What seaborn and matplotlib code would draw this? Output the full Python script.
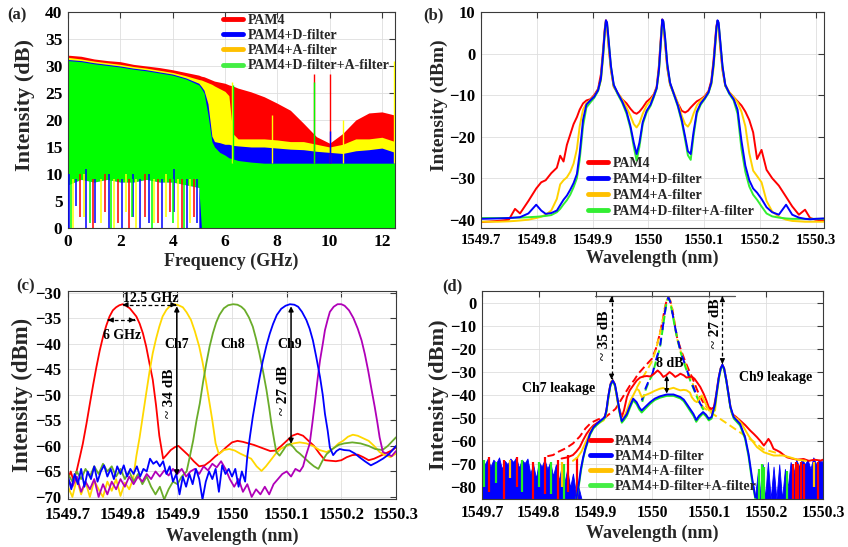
import numpy as np
import matplotlib
matplotlib.use("Agg")
import matplotlib.pyplot as plt
from matplotlib.lines import Line2D
import seaborn as sns

# ---------------- DATA ----------------
# (a) electrical spectra: envelope values (dB) on a frequency grid (GHz)
a_freq = [0, 0.5, 1, 1.5, 2, 2.5, 3, 3.5, 4, 4.5, 5, 5.1, 5.2, 5.35, 5.5, 5.6, 5.8, 6.0, 6.15,
          6.3, 6.5, 7, 7.5, 8, 8.5, 9, 9.5, 10, 10.5, 11, 11.5, 12, 12.5]
a_red_top = [32, 31.8, 31.3, 31, 30.8, 30.3, 30, 29.7, 29.3, 28.8, 28.3, 28.1, 28, 27.7, 27.4, 27.2,
             27, 26.8, 26.5, 26.3, 25.9, 25.2, 24.3, 23.1, 21.8, 19.4, 16.9, 15.7, 17.5, 20, 21.3, 21.5, 20.9]
a_yel_top = [31.6, 31.3, 30.9, 30.6, 30.3, 29.9, 29.6, 29.2, 28.8, 28.2, 27.5, 27.4, 27.2, 26.9, 26.6,
             26.3, 25.8, 25.3, 24.5, 17.5, 16.5, 16.5, 16.5, 16.3, 16, 16, 15.5, 15, 15.5, 16.5, 16.5, 16.8, 16]
a_blu_top = [31.2, 31, 30.6, 30.3, 30, 29.6, 29.3, 28.9, 28.5, 27.8, 26.8, 26.2, 25.5, 23, 17, 16,
             15.8, 15.5, 15.5, 15.3, 15.2, 15, 15, 14.8, 14.6, 14.5, 14.2, 14, 13.8, 14.3, 14.5, 14.8, 14]
a_grn_top = [31, 30.8, 30.4, 30.1, 29.8, 29.4, 29.1, 28.7, 28.3, 27.6, 26.5, 25.8, 25, 21, 16, 15,
             14, 13.5, 13, 12.8, 12.5, 12.2, 12, 12, 12, 12, 12, 12, 12, 12, 12, 12, 12]
a_grn_low = [8, 9, 8.5, 9, 8.5, 8.5, 9, 8.5, 8.5, 8, 7.5, 0, 0, 0, 0, 0,
             0, 0, 0, 0, 0, 0, 0, 0, 0, 0, 0, 0, 0, 0, 0, 0, 0]
# noise dips below the green floor (GHz, lowest dB, highest dB)
a_red_dips = [(0.45, 2, 10), (0.95, 0, 9), (1.4, 3, 10), (1.9, 1, 9), (2.35, 0, 9), (2.95, 2, 10),
              (3.45, 1, 9), (3.9, 3, 9), (4.35, 0, 9), (4.8, 2, 9)]
a_blu_dips = [(0.05, 0, 10), (0.3, 4, 9), (0.7, 0, 11), (1.05, 1, 9), (1.55, 0, 10), (2.05, 0, 9),
              (2.5, 2, 10), (2.75, 0, 9), (3.1, 1, 10), (3.6, 0, 9), (4.05, 3, 11), (4.55, 0, 9), (4.95, 1, 9)]
a_yel_dips = [(0.2, 0, 9), (0.6, 2, 10), (1.25, 1, 9), (1.75, 0, 9), (2.2, 3, 10), (2.6, 0, 9),
              (3.3, 1, 9), (3.75, 2, 10), (4.2, 0, 9), (4.65, 1, 9)]
a_grn_dips = [(0.12, 0, 9), (0.85, 1, 9), (1.65, 0, 9), (2.45, 2, 9), (3.2, 0, 9), (4.0, 1, 9), (4.45, 0, 9)]
# narrow tones (GHz, peak dB, series)
a_tones = [(6.25, 27, "yel"), (6.3, 26.5, "grn"), (7.8, 21, "yel"), (9.4, 28.5, "red"),
           (9.42, 27, "grn"), (10.0, 28.5, "red"), (10.0, 18, "blu"), (10.5, 20, "yel"), (12.48, 31, "yel")]

# (b) optical spectra (nm, dBm)
b_wl = [1549.700, 1549.730, 1549.750, 1549.761, 1549.770, 1549.785, 1549.799, 1549.808, 1549.816, 1549.826,
        1549.836, 1549.842, 1549.848, 1549.854, 1549.860, 1549.866, 1549.872, 1549.877, 1549.883, 1549.889,
        1549.896, 1549.903, 1549.910, 1549.915, 1549.919, 1549.922, 1549.924, 1549.926, 1549.929, 1549.933,
        1549.938, 1549.945, 1549.953, 1549.961, 1549.968, 1549.974, 1549.979, 1549.984, 1549.990, 1549.997,
        1550.004, 1550.010, 1550.015, 1550.019, 1550.022, 1550.025, 1550.027, 1550.030, 1550.034, 1550.039,
        1550.046, 1550.053, 1550.060, 1550.066, 1550.071, 1550.076, 1550.081, 1550.087, 1550.094, 1550.101,
        1550.108, 1550.113, 1550.117, 1550.120, 1550.122, 1550.124, 1550.126, 1550.129, 1550.133, 1550.138,
        1550.145, 1550.153, 1550.160, 1550.167, 1550.174, 1550.181, 1550.188, 1550.195, 1550.203, 1550.212,
        1550.222, 1550.234, 1550.247, 1550.258, 1550.270, 1550.281, 1550.290, 1550.300, 1550.315]
b_red = [-40.6, -40.3, -40.0, -37.4, -38.5, -35.5, -32.5, -31.0, -30.5, -28.8,
         -27.5, -24.6, -26.0, -22.0, -19.5, -17.0, -15.3, -13.5, -12.0, -11.3,
         -11.0, -10.0, -8.5, -5.0, 1.0, 6.0, 8.0, 6.5, 1.5, -4.0,
         -8.0, -9.5, -11.0, -12.0, -13.3, -14.2, -14.5, -14.0, -13.0, -11.6,
         -10.8, -9.8, -8.0, -3.0, 3.0, 8.2, 7.0, 2.5, -3.5, -7.5,
         -9.8, -12.0, -13.8, -14.2, -13.8, -13.0, -12.3, -11.5, -11.0, -10.3,
         -9.0, -6.5, -1.5, 3.5, 6.5, 7.8, 6.5, 1.5, -4.0, -7.8,
         -9.3, -10.5, -11.5, -12.5, -14.0, -16.0, -19.0, -25.4, -23.2, -28.0,
         -30.0, -31.8, -34.5, -36.8, -38.8, -37.6, -39.6, -40.0, -40.2]
b_yel = [-40.5, -40.5, -40.4, -40.3, -40.2, -40.0, -39.6, -39.3, -38.8, -37.8,
         -35.0, -31.5, -30.5, -29.8, -28.5, -26.5, -23.0, -17.5, -13.5, -12.0,
         -11.2, -10.3, -8.8, -6.5, -1.0, 5.0, 7.6, 6.8, 2.0, -3.5,
         -7.8, -9.5, -11.0, -13.0, -15.0, -17.0, -17.8, -16.8, -14.5, -12.5,
         -11.3, -10.0, -8.3, -4.5, 1.5, 7.8, 7.3, 3.0, -3.0, -7.3,
         -9.5, -12.0, -15.0, -17.0, -17.6, -16.5, -14.5, -12.5, -11.3, -10.5,
         -9.2, -7.5, -3.5, 1.5, 5.0, 7.5, 7.0, 2.5, -3.5, -7.5,
         -9.3, -10.5, -11.8, -14.0, -17.5, -24.0, -28.2, -29.5, -31.0, -35.5,
         -38.0, -39.3, -40.0, -40.3, -40.4, -40.5, -40.5, -40.5, -40.5]
b_blu = [-39.8, -39.7, -39.6, -39.5, -39.4, -38.5, -36.4, -37.8, -38.6, -38.4,
         -37.8, -36.5, -35.2, -34.2, -32.8, -31.2, -29.0, -24.0, -16.0, -12.3,
         -11.3, -10.4, -8.8, -6.0, 0.0, 5.5, 8.0, 7.5, 3.0, -3.0,
         -7.5, -9.5, -11.5, -14.0, -17.5, -21.5, -24.2, -21.5, -16.5, -13.8,
         -12.3, -10.2, -8.3, -4.0, 2.0, 8.2, 7.8, 4.0, -2.5, -7.0,
         -9.8, -12.5, -16.0, -20.0, -23.5, -24.2, -19.0, -14.0, -12.0, -10.8,
         -9.3, -7.0, -2.5, 2.5, 6.0, 8.0, 7.5, 3.0, -3.0, -7.5,
         -9.5, -11.0, -13.5, -21.0, -27.0, -30.5, -32.5, -33.5, -35.0, -37.0,
         -38.2, -38.8, -36.4, -38.8, -39.5, -39.8, -39.9, -39.8, -39.7]
b_grn = [-39.6, -39.6, -39.6, -39.5, -39.5, -39.4, -39.3, -39.2, -39.1, -38.9,
         -38.2, -37.4, -36.3, -35.3, -34.0, -32.2, -30.0, -25.5, -17.5, -13.0,
         -11.8, -10.7, -9.0, -6.2, -0.2, 5.3, 7.8, 7.3, 2.8, -3.2,
         -7.7, -9.8, -11.8, -14.5, -18.0, -22.5, -25.8, -22.5, -17.0, -14.2,
         -12.6, -10.5, -8.5, -4.2, 1.8, 8.0, 7.6, 3.8, -2.7, -7.2,
         -10.0, -12.8, -16.5, -20.8, -24.5, -25.6, -20.0, -14.5, -12.3, -11.0,
         -9.5, -7.2, -2.7, 2.3, 5.8, 7.8, 7.3, 2.8, -3.2, -7.7,
         -9.7, -11.3, -14.5, -23.0, -28.5, -32.0, -34.0, -35.2, -36.8, -38.5,
         -39.2, -39.5, -39.7, -39.8, -39.8, -39.8, -39.8, -39.8, -39.8]

# (c) filter responses of channels Ch6..Ch10 (nm, dBm)
c_ch6 = [(1549.700, -66.5), (1549.705, -65.0), (1549.710, -66.8), (1549.716, -64.8), (1549.722, -62.0),
         (1549.727, -59.6), (1549.734, -55.5), (1549.740, -51.7), (1549.746, -48.0), (1549.752, -44.5),
         (1549.758, -41.3), (1549.764, -38.6), (1549.770, -36.4), (1549.776, -34.6), (1549.782, -33.4),
         (1549.788, -32.8), (1549.794, -32.4), (1549.800, -32.2), (1549.806, -32.5), (1549.813, -33.0),
         (1549.819, -33.8), (1549.825, -34.6), (1549.831, -36.0), (1549.837, -37.9), (1549.843, -40.5),
         (1549.849, -43.8), (1549.855, -47.0), (1549.861, -52.0), (1549.867, -58.0), (1549.874, -62.5),
         (1549.880, -61.8), (1549.888, -60.8), (1549.896, -60.2), (1549.902, -60.0), (1549.910, -60.8),
         (1549.920, -61.8), (1549.930, -63.0), (1549.940, -64.0), (1549.950, -63.8), (1549.960, -63.0),
         (1549.970, -62.0), (1549.980, -61.2), (1549.990, -60.2), (1550.000, -59.3), (1550.010, -59.0),
         (1550.020, -59.2), (1550.030, -59.5), (1550.040, -59.8), (1550.050, -60.2), (1550.060, -60.6),
         (1550.070, -61.0), (1550.080, -60.9), (1550.090, -60.0), (1550.100, -59.0), (1550.110, -58.0),
         (1550.120, -57.6), (1550.130, -58.0), (1550.140, -59.0), (1550.150, -60.0), (1550.160, -61.5),
         (1550.170, -62.8), (1550.180, -62.9), (1550.190, -63.0), (1550.200, -62.8), (1550.210, -62.2),
         (1550.220, -61.8), (1550.230, -61.7), (1550.240, -62.2), (1550.250, -62.8), (1550.260, -62.5),
         (1550.270, -62.0), (1550.280, -61.5), (1550.290, -61.0), (1550.300, -60.3)]
c_ch7 = [(1549.700, -68.0), (1549.708, -70.0), (1549.716, -66.5), (1549.724, -69.5), (1549.732, -67.0),
         (1549.740, -70.0), (1549.748, -66.8), (1549.756, -68.5), (1549.764, -70.0), (1549.772, -67.0),
         (1549.780, -68.8), (1549.788, -66.5), (1549.796, -69.8), (1549.804, -67.2), (1549.812, -68.5),
         (1549.819, -66.5), (1549.825, -62.0), (1549.831, -58.3), (1549.837, -54.0), (1549.843, -49.7),
         (1549.849, -45.5), (1549.855, -41.8), (1549.861, -39.0), (1549.867, -36.6), (1549.873, -34.6),
         (1549.880, -33.3), (1549.887, -32.5), (1549.895, -32.2), (1549.902, -32.4), (1549.910, -32.8),
         (1549.917, -33.8), (1549.925, -35.3), (1549.932, -37.5), (1549.940, -40.5), (1549.946, -43.5),
         (1549.952, -47.1), (1549.958, -51.0), (1549.964, -55.0), (1549.970, -59.5), (1549.976, -61.6),
         (1549.985, -60.8), (1549.995, -60.6), (1550.005, -60.9), (1550.015, -61.5), (1550.025, -62.0),
         (1550.035, -62.5), (1550.045, -64.0), (1550.054, -64.9), (1550.062, -64.0), (1550.070, -62.9),
         (1550.080, -61.5), (1550.090, -60.5), (1550.100, -60.0), (1550.112, -59.5), (1550.124, -59.3),
         (1550.136, -59.5), (1550.148, -60.0), (1550.160, -60.8), (1550.173, -61.2), (1550.185, -60.5),
         (1550.195, -59.5), (1550.203, -59.0), (1550.212, -58.2), (1550.221, -57.8), (1550.230, -58.0),
         (1550.240, -58.5), (1550.250, -59.0), (1550.260, -60.0), (1550.270, -61.2), (1550.280, -61.8),
         (1550.290, -62.2), (1550.300, -61.5)]
c_ch8 = [(1549.700, -65.5), (1549.708, -67.0), (1549.716, -65.0), (1549.724, -66.5), (1549.732, -64.5),
         (1549.740, -66.0), (1549.748, -64.0), (1549.756, -65.5), (1549.764, -63.5), (1549.772, -65.0),
         (1549.780, -64.0), (1549.788, -66.0), (1549.796, -64.5), (1549.804, -66.5), (1549.812, -65.0),
         (1549.820, -67.0), (1549.828, -65.5), (1549.836, -67.5), (1549.844, -66.0), (1549.852, -68.0),
         (1549.860, -69.5), (1549.868, -68.0), (1549.876, -70.5), (1549.884, -68.5), (1549.892, -67.0),
         (1549.900, -67.5), (1549.908, -66.0), (1549.917, -65.0), (1549.923, -62.0), (1549.929, -58.9),
         (1549.935, -55.0), (1549.941, -51.7), (1549.947, -47.5), (1549.953, -43.8), (1549.959, -40.5),
         (1549.965, -37.9), (1549.971, -35.8), (1549.977, -34.3), (1549.985, -33.0), (1549.993, -32.4),
         (1550.002, -32.2), (1550.010, -32.3), (1550.017, -32.7), (1550.023, -33.3), (1550.031, -34.8),
         (1550.038, -36.6), (1550.044, -39.0), (1550.050, -41.8), (1550.057, -45.5), (1550.063, -49.0),
         (1550.068, -52.5), (1550.072, -55.6), (1550.077, -58.8), (1550.081, -61.2), (1550.087, -61.9),
         (1550.094, -60.8), (1550.100, -59.8), (1550.106, -59.6), (1550.112, -60.2), (1550.118, -61.0),
         (1550.124, -61.5), (1550.134, -62.5), (1550.142, -63.3), (1550.150, -64.0), (1550.158, -64.5),
         (1550.165, -63.0), (1550.173, -61.6), (1550.185, -60.5), (1550.195, -59.8), (1550.205, -59.5),
         (1550.220, -59.3), (1550.235, -59.5), (1550.250, -60.0), (1550.262, -60.6), (1550.275, -60.8),
         (1550.285, -60.0), (1550.300, -58.3)]
c_ch9 = [(1549.700, -66.0), (1549.706, -68.5), (1549.712, -65.5), (1549.718, -67.5), (1549.724, -64.5),
         (1549.730, -68.0), (1549.736, -65.0), (1549.742, -66.5), (1549.748, -64.0), (1549.754, -67.0),
         (1549.760, -65.0), (1549.766, -63.8), (1549.772, -66.0), (1549.778, -64.5), (1549.784, -66.5),
         (1549.790, -64.0), (1549.796, -65.5), (1549.802, -63.8), (1549.808, -66.0), (1549.814, -64.5),
         (1549.820, -65.5), (1549.826, -64.0), (1549.832, -66.0), (1549.838, -64.5), (1549.844, -65.0),
         (1549.850, -62.5), (1549.856, -63.5), (1549.862, -63.0), (1549.868, -64.0), (1549.874, -63.0),
         (1549.880, -65.5), (1549.886, -64.0), (1549.892, -67.0), (1549.898, -65.5), (1549.904, -69.5),
         (1549.910, -66.0), (1549.916, -68.0), (1549.922, -65.5), (1549.928, -67.5), (1549.934, -64.5),
         (1549.940, -66.5), (1549.946, -70.5), (1549.952, -67.0), (1549.958, -65.0), (1549.964, -66.5),
         (1549.970, -64.5), (1549.976, -69.0), (1549.982, -63.8), (1549.988, -65.5), (1549.994, -64.5),
         (1550.000, -66.0), (1550.006, -64.5), (1550.012, -68.0), (1550.018, -65.0), (1550.024, -67.0),
         (1550.028, -62.0), (1550.033, -58.0), (1550.038, -54.3), (1550.044, -50.5), (1550.050, -46.9),
         (1550.056, -43.5), (1550.063, -40.3), (1550.069, -38.0), (1550.075, -36.1), (1550.082, -34.3),
         (1550.090, -33.1), (1550.098, -32.5), (1550.106, -32.2), (1550.114, -32.3), (1550.121, -32.7),
         (1550.128, -33.7), (1550.136, -35.3), (1550.142, -37.0), (1550.148, -39.3), (1550.154, -42.5),
         (1550.161, -46.5), (1550.166, -50.0), (1550.170, -53.7), (1550.175, -57.0), (1550.179, -60.3),
         (1550.185, -61.8), (1550.191, -61.0), (1550.197, -60.6), (1550.205, -60.8), (1550.215, -60.9),
         (1550.225, -61.5), (1550.233, -62.2), (1550.243, -63.0), (1550.254, -63.8), (1550.265, -63.2),
         (1550.276, -62.5), (1550.285, -61.8), (1550.293, -60.9), (1550.300, -60.0)]
c_ch10 = [(1549.700, -66.5), (1549.708, -68.0), (1549.716, -66.0), (1549.724, -69.0), (1549.732, -67.0),
          (1549.740, -68.5), (1549.748, -66.5), (1549.756, -70.0), (1549.764, -67.5), (1549.772, -69.5),
          (1549.780, -67.0), (1549.788, -68.5), (1549.796, -66.5), (1549.804, -68.0), (1549.812, -66.0),
          (1549.820, -67.5), (1549.828, -66.0), (1549.836, -67.0), (1549.844, -65.5), (1549.852, -66.5),
          (1549.860, -65.0), (1549.868, -66.0), (1549.876, -64.8), (1549.884, -65.8), (1549.892, -64.5),
          (1549.900, -65.5), (1549.908, -64.5), (1549.916, -66.0), (1549.924, -65.0), (1549.932, -64.5),
          (1549.940, -65.5), (1549.948, -64.0), (1549.956, -64.8), (1549.964, -63.5), (1549.972, -64.2),
          (1549.980, -63.0), (1549.988, -64.5), (1549.996, -66.5), (1550.004, -68.0), (1550.012, -66.5),
          (1550.020, -69.0), (1550.028, -67.5), (1550.036, -70.0), (1550.044, -68.5), (1550.052, -69.5),
          (1550.060, -68.0), (1550.068, -69.5), (1550.076, -67.5), (1550.084, -66.5), (1550.092, -65.5),
          (1550.100, -65.0), (1550.108, -66.0), (1550.116, -64.5), (1550.124, -65.0), (1550.130, -64.0),
          (1550.135, -62.0), (1550.142, -59.6), (1550.147, -55.5), (1550.152, -51.1), (1550.157, -46.5),
          (1550.161, -43.2), (1550.166, -40.0), (1550.170, -37.3), (1550.175, -35.2), (1550.179, -33.7),
          (1550.186, -32.7), (1550.193, -32.2), (1550.200, -32.2), (1550.206, -32.5), (1550.214, -33.4),
          (1550.222, -34.9), (1550.230, -37.0), (1550.237, -39.3), (1550.243, -42.0), (1550.249, -45.2),
          (1550.255, -48.8), (1550.261, -52.3), (1550.266, -55.5), (1550.270, -58.3), (1550.276, -61.2),
          (1550.283, -61.5), (1550.292, -62.0), (1550.300, -61.0)]

# (d) Ch8 output spectra (nm, dBm): solid = with Ch7/Ch9 leakage, dashed = Ch8 alone
d_red = [(1549.840, -67.5), (1549.850, -67.0), (1549.860, -66.0), (1549.866, -64.5), (1549.872, -62.6),
         (1549.878, -59.5), (1549.884, -56.8), (1549.890, -54.8), (1549.896, -53.2), (1549.902, -52.2),
         (1549.908, -51.3), (1549.913, -50.5), (1549.917, -49.0), (1549.920, -45.0), (1549.924, -38.0),
         (1549.927, -34.5), (1549.930, -33.7), (1549.933, -35.0), (1549.937, -40.0), (1549.941, -45.5),
         (1549.946, -49.6), (1549.950, -46.5), (1549.955, -40.9), (1549.960, -38.0), (1549.966, -35.9),
         (1549.972, -33.8), (1549.978, -32.5), (1549.984, -32.0), (1549.990, -31.8), (1549.996, -32.0),
         (1550.002, -31.0), (1550.009, -29.4), (1550.014, -30.5), (1550.019, -32.2), (1550.024, -31.5),
         (1550.030, -30.1), (1550.035, -31.0), (1550.040, -32.2), (1550.045, -31.5), (1550.049, -30.8),
         (1550.055, -31.5), (1550.060, -32.5), (1550.065, -32.2), (1550.069, -32.0), (1550.074, -33.0),
         (1550.078, -34.4), (1550.084, -36.5), (1550.090, -39.5), (1550.095, -42.5), (1550.099, -45.3),
         (1550.104, -46.0), (1550.108, -45.3), (1550.112, -40.0), (1550.116, -33.0), (1550.120, -28.5),
         (1550.123, -27.0), (1550.126, -28.5), (1550.130, -33.7), (1550.134, -40.0), (1550.137, -45.0),
         (1550.140, -48.2), (1550.147, -49.5), (1550.154, -51.0), (1550.163, -53.0), (1550.172, -55.4),
         (1550.178, -56.8), (1550.184, -58.3), (1550.190, -60.0), (1550.196, -61.9), (1550.200, -60.5),
         (1550.204, -59.0), (1550.208, -60.5), (1550.213, -63.3), (1550.219, -64.0), (1550.225, -64.8),
         (1550.231, -66.0), (1550.237, -67.0), (1550.245, -67.5), (1550.255, -68.0), (1550.266, -67.7),
         (1550.275, -68.5), (1550.285, -68.0), (1550.296, -68.4), (1550.300, -68.0)]
d_yel = [(1549.860, -68.5), (1549.868, -67.0), (1549.875, -64.5), (1549.881, -61.2), (1549.887, -58.0),
         (1549.893, -54.7), (1549.900, -53.0), (1549.908, -51.8), (1549.914, -51.0), (1549.918, -49.0),
         (1549.921, -44.0), (1549.925, -37.0), (1549.928, -34.0), (1549.930, -33.7), (1549.933, -35.0),
         (1549.937, -40.5), (1549.941, -46.5), (1549.946, -51.0), (1549.951, -49.0), (1549.955, -46.7),
         (1549.961, -42.5), (1549.966, -40.2), (1549.972, -37.3), (1549.976, -38.0), (1549.981, -40.9),
         (1549.988, -40.0), (1549.996, -39.2), (1550.004, -38.2), (1550.013, -37.3), (1550.019, -37.0),
         (1550.025, -37.7), (1550.031, -37.3), (1550.037, -36.9), (1550.043, -37.5), (1550.049, -38.0),
         (1550.055, -37.8), (1550.060, -38.0), (1550.066, -39.0), (1550.069, -40.9), (1550.074, -42.5),
         (1550.078, -43.1), (1550.083, -41.5), (1550.087, -40.2), (1550.092, -43.0), (1550.099, -46.7),
         (1550.106, -47.0), (1550.110, -46.7), (1550.113, -40.0), (1550.117, -33.0), (1550.120, -28.5),
         (1550.123, -27.0), (1550.126, -28.5), (1550.130, -33.7), (1550.134, -40.5), (1550.138, -46.0),
         (1550.141, -48.9), (1550.150, -50.5), (1550.157, -52.5), (1550.164, -55.5), (1550.170, -58.0),
         (1550.175, -59.7), (1550.184, -62.6), (1550.196, -64.8), (1550.213, -66.2), (1550.230, -66.2),
         (1550.242, -67.0), (1550.255, -68.0), (1550.270, -68.5)]
d_blu = [(1549.866, -85.0), (1549.870, -79.0), (1549.874, -72.0), (1549.878, -67.0), (1549.882, -63.0),
         (1549.886, -60.0), (1549.890, -56.8), (1549.896, -54.0), (1549.902, -52.5), (1549.909, -51.0),
         (1549.916, -49.6), (1549.919, -46.5), (1549.922, -40.9), (1549.926, -35.5), (1549.930, -33.7),
         (1549.934, -35.5), (1549.937, -39.5), (1549.940, -44.0), (1549.943, -48.2), (1549.946, -51.3),
         (1549.950, -50.0), (1549.955, -48.2), (1549.960, -45.0), (1549.966, -41.6), (1549.972, -43.1),
         (1549.977, -45.5), (1549.981, -46.7), (1549.988, -45.0), (1549.996, -43.1), (1550.004, -41.6),
         (1550.013, -40.6), (1550.025, -39.8), (1550.037, -39.8), (1550.049, -40.9), (1550.055, -42.0),
         (1550.060, -43.8), (1550.066, -46.0), (1550.072, -48.2), (1550.077, -50.8), (1550.082, -49.0),
         (1550.089, -47.4), (1550.094, -48.5), (1550.099, -50.3), (1550.104, -49.5), (1550.110, -43.8),
         (1550.114, -37.0), (1550.117, -32.0), (1550.120, -28.5), (1550.123, -26.9), (1550.126, -28.5),
         (1550.130, -33.7), (1550.134, -40.0), (1550.137, -45.0), (1550.143, -49.6), (1550.154, -52.5),
         (1550.163, -58.3), (1550.169, -65.5), (1550.175, -75.6), (1550.181, -84.3)]
d_grn = [(1549.866, -85.0), (1549.870, -80.0), (1549.874, -73.0), (1549.878, -67.5), (1549.882, -63.5),
         (1549.886, -60.5), (1549.890, -57.3), (1549.896, -54.5), (1549.902, -53.0), (1549.909, -51.5),
         (1549.916, -50.0), (1549.919, -47.0), (1549.922, -41.5), (1549.926, -36.0), (1549.930, -34.0),
         (1549.934, -36.0), (1549.937, -40.0), (1549.940, -44.5), (1549.943, -48.8), (1549.946, -52.0),
         (1549.950, -50.8), (1549.955, -49.0), (1549.960, -45.8), (1549.966, -42.3), (1549.972, -44.0),
         (1549.977, -46.4), (1549.981, -47.6), (1549.988, -45.8), (1549.996, -43.8), (1550.004, -42.2),
         (1550.013, -41.2), (1550.025, -40.4), (1550.037, -40.4), (1550.049, -41.5), (1550.055, -42.7),
         (1550.060, -44.5), (1550.066, -46.8), (1550.072, -49.0), (1550.077, -51.6), (1550.082, -49.8),
         (1550.089, -48.0), (1550.094, -49.2), (1550.099, -51.0), (1550.104, -50.2), (1550.110, -44.5),
         (1550.114, -37.5), (1550.117, -32.5), (1550.120, -29.0), (1550.123, -27.3), (1550.126, -29.0),
         (1550.130, -34.2), (1550.134, -40.5), (1550.137, -45.5), (1550.143, -50.2), (1550.154, -53.2),
         (1550.163, -59.0), (1550.169, -66.5), (1550.175, -77.0), (1550.181, -85.0)]
d_red_ch8 = [(1549.815, -66.5), (1549.825, -66.0), (1549.835, -64.5), (1549.848, -63.0),
             (1549.860, -61.0), (1549.872, -58.0), (1549.882, -54.5), (1549.892, -52.0), (1549.905, -50.5),
             (1549.918, -49.5), (1549.935, -46.0), (1549.950, -40.0), (1549.960, -36.0), (1549.968, -33.5),
             (1549.975, -30.8), (1549.987, -27.5), (1549.999, -24.3), (1550.006, -20.0), (1550.013, -13.5),
             (1550.018, -7.5), (1550.022, -2.0), (1550.025, 1.0), (1550.028, 2.2), (1550.031, 1.0),
             (1550.035, -3.0), (1550.039, -9.0), (1550.043, -14.9), (1550.050, -20.5), (1550.058, -25.8),
             (1550.065, -29.8), (1550.072, -33.7), (1550.078, -37.5), (1550.084, -40.9), (1550.090, -43.5),
             (1550.096, -45.2), (1550.105, -47.0)]
d_yel_ch8 = [(1549.972, -37.0), (1549.980, -33.5), (1549.990, -29.5), (1550.000, -25.0), (1550.006, -20.5),
             (1550.012, -14.5), (1550.018, -8.0), (1550.022, -2.5), (1550.025, 1.0), (1550.028, 2.2),
             (1550.031, 1.0), (1550.035, -3.5), (1550.039, -9.5), (1550.043, -15.5), (1550.050, -21.5),
             (1550.058, -27.0), (1550.065, -31.5), (1550.072, -36.0), (1550.078, -40.0), (1550.084, -43.5),
             (1550.090, -45.5), (1550.180, -60.5), (1550.195, -63.5), (1550.210, -64.5), (1550.225, -65.5)]
d_blu_ch8 = [(1549.981, -42.4), (1549.988, -37.0), (1549.994, -33.5), (1550.000, -30.8), (1550.006, -25.0),
             (1550.013, -19.3), (1550.018, -11.0), (1550.022, -4.0), (1550.025, 0.5), (1550.028, 2.2),
             (1550.031, 0.5), (1550.035, -4.5), (1550.040, -11.0), (1550.045, -16.5), (1550.049, -20.7),
             (1550.058, -27.5), (1550.067, -33.7), (1550.075, -38.5), (1550.084, -43.8), (1550.090, -46.0),
             (1550.096, -47.4)]
d_grn_ch8 = [(1549.982, -43.0), (1549.988, -37.8), (1549.994, -34.0), (1550.000, -31.2), (1550.006, -25.5),
             (1550.013, -19.8), (1550.018, -11.5), (1550.022, -4.5), (1550.025, 0.3), (1550.028, 2.0),
             (1550.031, 0.3), (1550.035, -4.8), (1550.040, -11.5), (1550.045, -17.0), (1550.049, -21.2),
             (1550.058, -28.0), (1550.067, -34.2), (1550.075, -39.0), (1550.084, -44.3), (1550.090, -46.5)]
# noise floor tops (nm, dBm) of the receiver floor, filled down to the axis
d_floor_left = [(1549.700, -68), (1549.705, -70), (1549.710, -67.5), (1549.715, -71), (1549.720, -68),
                (1549.725, -69.5), (1549.730, -67), (1549.735, -72), (1549.740, -68.5), (1549.745, -70),
                (1549.750, -67.5), (1549.755, -69), (1549.760, -67), (1549.765, -71.5), (1549.770, -68),
                (1549.775, -69.5), (1549.780, -67.5), (1549.785, -74), (1549.790, -70), (1549.795, -76),
                (1549.800, -69), (1549.805, -71), (1549.810, -68), (1549.815, -72), (1549.820, -69),
                (1549.825, -75), (1549.830, -70), (1549.835, -77), (1549.840, -71), (1549.845, -78),
                (1549.850, -72), (1549.855, -80), (1549.860, -74), (1549.865, -82), (1549.870, -80),
                (1549.875, -85)]
d_floor_right = [(1550.180, -85), (1550.186, -72), (1550.190, -84), (1550.194, -70), (1550.198, -85),
                 (1550.203, -69), (1550.208, -85), (1550.213, -71), (1550.218, -85), (1550.223, -70),
                 (1550.228, -85), (1550.233, -72), (1550.238, -80), (1550.243, -69), (1550.248, -74),
                 (1550.253, -68), (1550.258, -71), (1550.263, -67.5), (1550.268, -70), (1550.273, -68),
                 (1550.278, -72), (1550.283, -67), (1550.288, -70), (1550.293, -68), (1550.298, -69),
                 (1550.300, -68)]
# coloured noise spikes on the floor (nm, bottom, top)
d_red_spikes = [(1549.712, -82, -67), (1549.738, -85, -68), (1549.762, -80, -67), (1549.790, -85, -69),
                (1549.810, -83, -67), (1549.833, -85, -68), (1549.852, -82, -66), (1549.868, -85, -67),
                (1550.248, -85, -70), (1550.252, -85, -69), (1550.256, -85, -70), (1550.262, -85, -69),
                (1550.266, -85, -70), (1550.292, -85, -69)]
d_grn_spikes = [(1549.703, -80, -68), (1549.725, -78, -69), (1549.770, -82, -68), (1549.800, -80, -69),
                (1549.822, -83, -69), (1549.845, -85, -70), (1550.188, -85, -72), (1550.192, -85, -70),
                (1550.196, -85, -71), (1550.236, -85, -73)]
d_yel_spikes = [(1549.750, -76, -68), (1549.840, -80, -69), (1550.285, -80, -69)]

LEG_LABELS = ["PAM4", "PAM4+D-filter", "PAM4+A-filter", "PAM4+D-filter+A-filter"]

# ---------------- STYLE ----------------
sns.set_theme(style="whitegrid")
plt.rcParams["font.family"] = ["Liberation Serif", "DejaVu Serif"]
plt.rcParams.update({
    "font.weight": "bold", "axes.labelweight": "bold", "axes.titleweight": "bold",
    "axes.edgecolor": "#3a3a3a", "axes.linewidth": 0.8,
    "grid.color": "#dedede", "grid.linewidth": 0.6,
    "xtick.color": "#3a3a3a", "ytick.color": "#3a3a3a",
    "xtick.labelcolor": "black", "ytick.labelcolor": "black",
    "axes.labelsize": 13,
})

RED, BLUE, GOLD, LIME = "#ff0000", "#0000ff", "#ffc000", "#33ee33"

fig = plt.figure(figsize=(8.48, 5.47), dpi=100)
ax_a = fig.add_axes([0.0802, 0.5832, 0.3856, 0.3949])
ax_b = fig.add_axes([0.5672, 0.5832, 0.4045, 0.3949])
ax_c = fig.add_axes([0.0802, 0.0878, 0.3868, 0.3803])
ax_d = fig.add_axes([0.5684, 0.0878, 0.4021, 0.3803])

# tick font sizes (x, y) per panel
tick_sizes = {ax_a: (12.5, 12.5), ax_b: (10.5, 12), ax_c: (12, 12), ax_d: (11.3, 12)}
for ax, (xs_, ys_) in tick_sizes.items():
    ax.set_facecolor("white")
    ax.tick_params(direction="in", length=4, width=0.8, top=True, right=True, pad=4)
    ax.tick_params(axis="x", labelsize=xs_)
    ax.tick_params(axis="y", labelsize=ys_)
    ax.set_axisbelow(True)
    for s in ax.spines.values():
        s.set_color("#3a3a3a")
ax_c.tick_params(axis="x", pad=6)
ax_c.tick_params(axis="y", pad=5)


def curve(ax, pairs, color, lw=1.4, ls="-", zorder=2):
    xs = [p[0] for p in pairs]
    ys = [p[1] for p in pairs]
    sns.lineplot(x=xs, y=ys, ax=ax, color=color, linewidth=lw, linestyle=ls,
                 estimator=None, sort=False, zorder=zorder, legend=False)


def legend(ax, colors, labels, spacing=0.15, **kw):
    handles = [Line2D([0], [0], color=c, lw=3.5) for c in colors]
    lg = ax.legend(handles, labels, prop={"weight": "bold", "size": 10}, handlelength=1.45,
                   handletextpad=0.3, labelspacing=spacing, borderaxespad=0, borderpad=0,
                   frameon=False, **kw)
    lg.set_zorder(5)
    return lg


wl_ticks = [1549.7, 1549.8, 1549.9, 1550.0, 1550.1, 1550.2, 1550.3]
wl_labels = ["1549.7", "1549.8", "1549.9", "1550", "1550.1", "1550.2", "1550.3"]

# ---------------- (a) ----------------
fa = {"red": "#ff0000", "yel": "#ffff00", "blu": "#0000ff", "grn": "#00ff00"}
ax_a.fill_between(a_freq, 0, a_red_top, color=fa["red"], lw=0, zorder=2)
ax_a.fill_between(a_freq, 0, a_yel_top, color=fa["yel"], lw=0, zorder=2)
ax_a.fill_between(a_freq, 0, a_blu_top, color=fa["blu"], lw=0, zorder=2)
ax_a.fill_between(a_freq, a_grn_low, a_grn_top, color=fa["grn"], lw=0, zorder=2)
ax_a.fill_between(a_freq, 0, a_grn_low, where=[v > 0 for v in a_grn_low], color="white", lw=0, zorder=2.5)
for key, dips in (("red", a_red_dips), ("yel", a_yel_dips), ("blu", a_blu_dips), ("grn", a_grn_dips)):
    ax_a.vlines([d[0] for d in dips], [d[1] for d in dips], [d[2] for d in dips],
                colors=fa[key], lw=1.3, alpha=0.85, zorder=3)
for x, top, key in a_tones:
    ax_a.vlines(x, 12, top, colors=fa[key], lw=1.0, zorder=3)
ax_a.set_xlim(0, 12.5)
ax_a.set_ylim(0, 40)
ax_a.set_xticks([0, 2, 4, 6, 8, 10, 12])
ax_a.set_yticks(range(0, 41, 5))
ax_a.set_xlabel("Frequency (GHz)", labelpad=2)
ax_a.set_ylabel("Intensity (dB)", fontsize=16)
ax_a.yaxis.set_label_coords(-0.1, 0.57)
legend(ax_a, [RED, BLUE, GOLD, "#44ee44"], LEG_LABELS,
       loc="upper left", bbox_to_anchor=(0.474, 0.99))

# ---------------- (b) ----------------
for ys, col in ((b_red, RED), (b_yel, "#ffd200"), (b_grn, LIME), (b_blu, BLUE)):
    curve(ax_b, list(zip(b_wl, ys)), col, lw=1.4)
ax_b.set_xlim(1549.7, 1550.315)
ax_b.set_ylim(-42, 10)
ax_b.set_xticks(wl_ticks, wl_labels)
ax_b.set_yticks([-40, -30, -20, -10, 0, 10])
ax_b.set_xlabel("Wavelength (nm)", labelpad=2)
ax_b.set_ylabel("Intensity (dBm)", fontsize=14)
ax_b.yaxis.set_label_coords(-0.097, 0.57)
legend(ax_b, [RED, BLUE, GOLD, LIME], LEG_LABELS, spacing=0.22,
       loc="upper left", bbox_to_anchor=(0.312, 0.328))

# ---------------- (c) ----------------
for pairs, col in ((c_ch6, "#ff0000"), (c_ch7, "#ffd800"), (c_ch8, "#6aac2a"),
                   (c_ch10, "#b000b8"), (c_ch9, "#0000ff")):
    curve(ax_c, pairs, col, lw=1.3)
ax_c.set_xlim(1549.7, 1550.3)
ax_c.set_ylim(-70.4, -29.6)
ax_c.set_xticks(wl_ticks, wl_labels)
ax_c.set_yticks(range(-70, -29, 5))
ax_c.set_xlabel("Wavelength (nm)", labelpad=3)
ax_c.set_ylabel("Intensity (dBm)", labelpad=1, fontsize=16.5)

txt = dict(fontsize=10, fontweight="bold", color="black", zorder=6)
rtxt = dict(fontsize=11, fontweight="bold", color="black", zorder=6, rotation=90)


def dashed_arrow(ax, x0, y0, x1, y1, ms=7, lw=0.9):
    ax.plot([x0, x1], [y0, y1], color="black", lw=lw, ls=(0, (3, 2)), zorder=6)
    dx, dy = (x1 - x0) * 0.02, (y1 - y0) * 0.02
    ax.annotate("", xy=(x1, y1), xytext=(x1 - dx, y1 - dy),
                arrowprops=dict(arrowstyle="-|>", color="black", lw=lw, mutation_scale=ms,
                                shrinkA=0, shrinkB=0), zorder=6)
    ax.annotate("", xy=(x0, y0), xytext=(x0 + dx, y0 + dy),
                arrowprops=dict(arrowstyle="-|>", color="black", lw=lw, mutation_scale=ms,
                                shrinkA=0, shrinkB=0), zorder=6)


def solid_arrow(ax, x0, y0, x1, y1, ms=7, lw=1.1):
    ax.annotate("", xy=(x1, y1), xytext=(x0, y0),
                arrowprops=dict(arrowstyle="<|-|>", color="black", lw=lw, mutation_scale=ms,
                                shrinkA=0, shrinkB=0), zorder=6)


dashed_arrow(ax_c, 1549.800, -32.3, 1549.898, -32.3)
ax_c.text(1549.851, -31.0, "12.5 GHz", ha="center", va="center", **txt)
dashed_arrow(ax_c, 1549.773, -35.3, 1549.822, -35.3)
ax_c.text(1549.798, -38.4, "6 GHz", ha="center", va="center", **txt)
ax_c.text(1549.899, -40.2, "Ch7", ha="center", va="center", **txt)
ax_c.text(1550.002, -40.2, "Ch8", ha="center", va="center", **txt)
ax_c.text(1550.106, -40.2, "Ch9", ha="center", va="center", **txt)
solid_arrow(ax_c, 1549.899, -65.8, 1549.899, -32.6)
ax_c.text(1549.885, -49.6, "~ 34 dB", ha="center", va="center", **rtxt)
solid_arrow(ax_c, 1550.108, -59.6, 1550.108, -32.6)
ax_c.text(1550.094, -49.0, "~ 27 dB", ha="center", va="center", **rtxt)

# ---------------- (d) ----------------
ax_d.fill_between([p[0] for p in d_floor_left], -85, [p[1] for p in d_floor_left],
                  color=BLUE, lw=0.6, edgecolor=BLUE, zorder=1.5)
ax_d.fill_between([p[0] for p in d_floor_right], -85, [p[1] for p in d_floor_right],
                  color=BLUE, lw=0.6, edgecolor=BLUE, zorder=1.5)
for spikes, col in ((d_red_spikes, RED), (d_grn_spikes, "#22ee22"), (d_yel_spikes, GOLD)):
    ax_d.vlines([s[0] for s in spikes], [s[1] for s in spikes], [s[2] for s in spikes],
                colors=col, lw=1.6, zorder=1.8)
dash = (0, (4, 2))
curve(ax_d, d_red_ch8, RED, lw=1.4, ls=dash, zorder=2)
curve(ax_d, d_yel_ch8, "#ffd200", lw=1.4, ls=dash, zorder=2)
curve(ax_d, d_grn_ch8, "#22ee22", lw=1.4, ls=dash, zorder=2)
curve(ax_d, d_blu_ch8, BLUE, lw=1.4, ls=(2, (4, 4)), zorder=2)
curve(ax_d, d_red, RED, lw=1.4, zorder=3)
curve(ax_d, d_yel, "#ffd200", lw=1.4, zorder=3)
curve(ax_d, d_grn, "#22ee22", lw=1.4, zorder=3)
curve(ax_d, d_blu, BLUE, lw=1.4, zorder=3)
ax_d.set_xlim(1549.7, 1550.3)
ax_d.set_ylim(-85, 5)
ax_d.set_xticks(wl_ticks, wl_labels)
ax_d.set_yticks(range(-80, 1, 10))
ax_d.set_xlabel("Wavelength (nm)", labelpad=3)
ax_d.set_ylabel("Intensity (dBm)", labelpad=1, fontsize=16)
ax_d.plot([1549.899, 1550.146], [2.7, 2.7], color="#555555", lw=0.9, zorder=6)
dashed_arrow(ax_d, 1549.928, 2.7, 1549.928, -33.3)
ax_d.text(1549.915, -14.0, "~ 35 dB", ha="center", va="center", **rtxt)
dashed_arrow(ax_d, 1550.123, 2.7, 1550.123, -26.6)
ax_d.text(1550.111, -9.0, "~ 27 dB", ha="center", va="center", **rtxt)
solid_arrow(ax_d, 1550.025, -39.4, 1550.025, -31.6, ms=6, lw=1.0)
ax_d.text(1550.031, -26.5, "8 dB", ha="center", va="center", **txt)
ax_d.text(1549.834, -37.3, "Ch7 leakage", ha="center", va="center", **txt)
ax_d.text(1550.217, -32.5, "Ch9 leakage", ha="center", va="center", **txt)
legend(ax_d, [RED, BLUE, GOLD, "#44ee44"], LEG_LABELS,
       loc="upper left", bbox_to_anchor=(0.318, 0.309))

# panel letters
for s, x, y in (("(a)", 0.008, 0.972), ("(b)", 0.499, 0.972), ("(c)", 0.019, 0.477), ("(d)", 0.521, 0.477)):
    fig.text(x, y, s, fontsize=12, fontweight="bold", ha="left", va="center")

fig.savefig("out.png", dpi=100, facecolor="white")
